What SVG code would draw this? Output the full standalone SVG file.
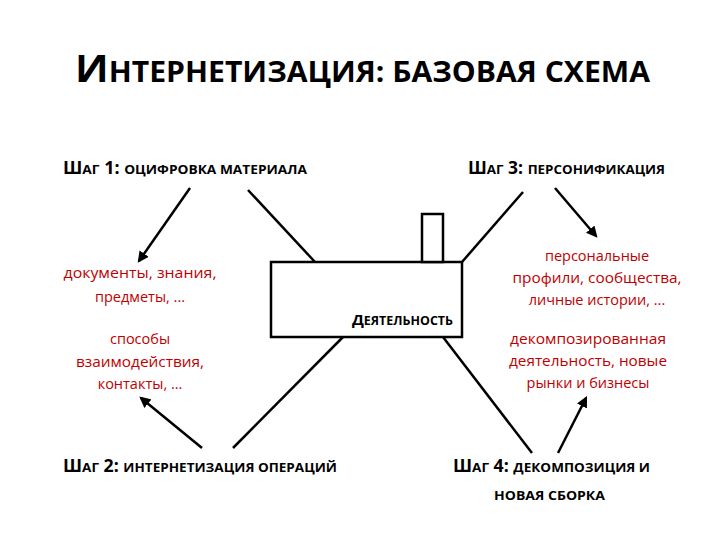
<svg xmlns="http://www.w3.org/2000/svg" width="720" height="540" viewBox="0 0 720 540">
<style>
.t{font-family:"Open Sans","Liberation Sans",sans-serif;font-weight:bold;fill:#000}
.r{font-family:"Open Sans","Liberation Sans",sans-serif;fill:#c00000;font-size:14.5px;text-anchor:middle}
.ln{stroke:#000;stroke-width:2.5;fill:none}
.ar{stroke:#000;stroke-width:2.5;fill:none;marker-end:url(#ah)}
</style>
<defs>
<marker id="ah" viewBox="0 0 10 10" refX="8" refY="5" markerWidth="4.5" markerHeight="4.5" orient="auto" markerUnits="strokeWidth">
<path d="M0,0 L10,5 L0,10 Z" fill="#000"/>
</marker>
</defs>
<rect width="720" height="540" fill="#fff"/>
<g id="title">
<text class="t" x="75" y="82" textLength="575" lengthAdjust="spacingAndGlyphs"><tspan font-size="38">И</tspan><tspan font-size="28">НТЕРНЕТИЗАЦИЯ: БАЗОВАЯ СХЕМА</tspan></text>
</g>
<g id="step1">
<text class="t" x="63" y="174" textLength="244" lengthAdjust="spacingAndGlyphs"><tspan font-size="17">Ш</tspan><tspan font-size="13">АГ</tspan><tspan font-size="17"> 1: </tspan><tspan font-size="13">ОЦИФРОВКА МАТЕРИАЛА</tspan></text>
</g>
<g id="step3">
<text class="t" x="468" y="174" textLength="197" lengthAdjust="spacingAndGlyphs"><tspan font-size="17">Ш</tspan><tspan font-size="13">АГ</tspan><tspan font-size="17"> 3: </tspan><tspan font-size="13">ПЕРСОНИФИКАЦИЯ</tspan></text>
</g>
<g id="step2">
<text class="t" x="63" y="472" textLength="274" lengthAdjust="spacingAndGlyphs"><tspan font-size="17">Ш</tspan><tspan font-size="13">АГ</tspan><tspan font-size="17"> 2: </tspan><tspan font-size="13">ИНТЕРНЕТИЗАЦИЯ ОПЕРАЦИЙ</tspan></text>
</g>
<g id="step4">
<text class="t" x="453" y="472" textLength="197" lengthAdjust="spacingAndGlyphs"><tspan font-size="17">Ш</tspan><tspan font-size="13">АГ</tspan><tspan font-size="17"> 4: </tspan><tspan font-size="13">ДЕКОМПОЗИЦИЯ И</tspan></text>
<text class="t" x="494" y="500" font-size="13" textLength="111" lengthAdjust="spacingAndGlyphs">НОВАЯ СБОРКА</text>
</g>
<g id="activity">
<rect x="271" y="262" width="191" height="75" fill="#fff" stroke="#000" stroke-width="2.5"/>
<rect x="422" y="214" width="21" height="48" fill="#fff" stroke="#000" stroke-width="2.5"/>
<text class="t" x="352" y="325" textLength="101" lengthAdjust="spacingAndGlyphs"><tspan font-size="15">Д</tspan><tspan font-size="12">ЕЯТЕЛЬНОСТЬ</tspan></text>
</g>
<g id="result1">
<text class="r" x="140" y="278" textLength="153" lengthAdjust="spacingAndGlyphs">документы, знания,</text>
<text class="r" x="140" y="302">предметы, ...</text>
</g>
<g id="result2">
<text class="r" x="140" y="344">способы</text>
<text class="r" x="140" y="367" textLength="128" lengthAdjust="spacingAndGlyphs">взаимодействия,</text>
<text class="r" x="140" y="389">контакты, ...</text>
</g>
<g id="result3">
<text class="r" x="597" y="261">персональные</text>
<text class="r" x="597" y="283" textLength="169" lengthAdjust="spacingAndGlyphs">профили, сообщества,</text>
<text class="r" x="597" y="305">личные истории, ...</text>
</g>
<g id="result4">
<text class="r" x="588" y="344" textLength="156" lengthAdjust="spacingAndGlyphs">декомпозированная</text>
<text class="r" x="588" y="366" textLength="158" lengthAdjust="spacingAndGlyphs">деятельность, новые</text>
<text class="r" x="588" y="388">рынки и бизнесы</text>
</g>
<g id="connectors">
<line class="ln" x1="248" y1="190" x2="315" y2="262"/>
<line class="ln" x1="462" y1="262" x2="523" y2="192"/>
<line class="ln" x1="343" y1="337" x2="233" y2="448"/>
<line class="ln" x1="443" y1="337" x2="532" y2="453"/>
<line class="ar" x1="190" y1="188" x2="139" y2="261"/>
<line class="ar" x1="555" y1="188" x2="596" y2="236"/>
<line class="ar" x1="202" y1="448" x2="141" y2="398"/>
<line class="ar" x1="558" y1="453" x2="586" y2="398"/>
</g>
</svg>
